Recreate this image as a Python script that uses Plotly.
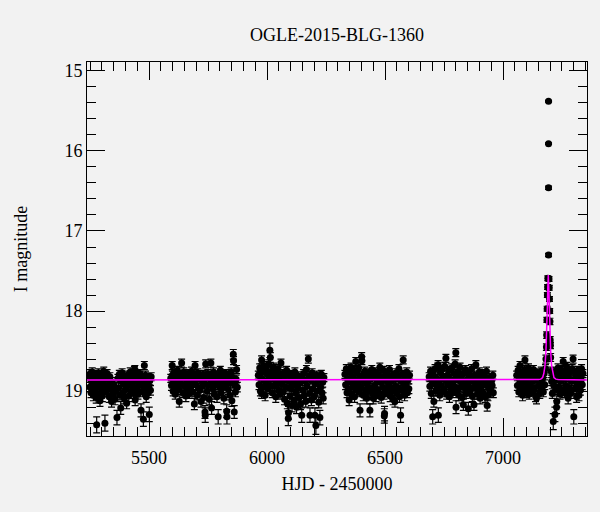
import plotly.graph_objects as go

# ---------------- data ----------------
s1_hjd = [5246,5249,5251,5254,5256,5259,5261,5264,5266,5269,5271,5274,5276,5278,5281,5283,5286,5289,5292,5294,
          5297,5299,5302,5305,5308,5311,5313,5316,5319,5322,5325,5328,5331,5334,5337,5341,5344,5348,5352,5356,
          5360,5364,5368,5371,5374,5377,5380,5383,5386,5389,5392,5395,5398,5401,5405,5408,5411,5414,5417,5420,
          5423,5426,5429,5432,5435,5438,5440,5441,5444,5447,5450,5453,5456,5459,5462,5466,5469,5472,5476,5478,
          5480,5482,5485,5488,5491,5494,5497,5499,5501,5503,5506,5509]
s1_mag = [18.82,18.95,18.78,19.02,18.88,18.76,18.93,19.05,18.84,18.79,18.99,18.87,19.08,19.42,18.81,18.92,18.77,19.03,19.12,18.86,
          18.96,18.80,19.06,18.90,18.75,18.98,19.40,18.83,19.01,18.78,18.94,18.86,19.07,18.82,18.97,19.13,18.89,19.04,18.93,19.10,
          19.00,19.33,18.84,18.96,18.79,19.05,19.21,18.88,18.77,19.02,18.91,19.09,18.83,18.98,19.15,18.80,18.92,19.06,18.86,18.76,
          19.00,18.90,18.81,18.95,19.03,18.74,18.73,19.11,18.87,18.97,18.79,19.04,18.85,18.93,18.78,19.24,18.91,19.01,19.35,18.84,
          18.68,18.96,18.80,19.07,18.89,18.83,19.02,18.94,19.29,18.87,18.99,18.82]
s1_err = [.05,.06,.05,.06,.05,.05,.06,.07,.05,.05,.06,.05,.07,.10,.05,.06,.05,.06,.07,.05,
          .06,.05,.07,.06,.05,.06,.10,.05,.06,.05,.06,.05,.07,.05,.06,.07,.06,.06,.06,.07,
          .06,.09,.05,.06,.05,.06,.08,.05,.05,.06,.06,.07,.05,.06,.07,.05,.06,.07,.05,.05,
          .06,.06,.05,.06,.06,.05,.05,.07,.05,.06,.05,.06,.05,.06,.05,.08,.06,.06,.09,.05,
          .05,.06,.05,.07,.06,.05,.06,.06,.09,.05,.06,.05]

s2_hjd = [5592,5595,5598,5599,5602,5605,5608,5611,5614,5617,5620,5623,5626,5628,5631,5634,5638,5641,5644,5647,
          5650,5653,5656,5659,5662,5665,5668,5671,5674,5677,5680,5683,5686,5689,5692,5695,5698,5701,5704,5707,
          5710,5713,5716,5720,5723,5726,5729,5732,5735,5737,5738,5740,5743,5746,5749,5752,5755,5758,5762,5765,
          5767,5770,5773,5776,5779,5782,5785,5788,5790,5793,5796,5799,5802,5805,5808,5811,5814,5817,5820,5823,
          5826,5829,5830,5833,5836,5839,5842,5845,5848,5851,5854,5857,5858,5861,5863,5866,5869,5871,5874]
s2_mag = [18.84,18.93,18.68,18.80,19.00,18.77,18.89,19.04,18.82,18.95,18.74,18.86,18.98,19.13,18.79,18.91,18.65,18.84,19.02,18.76,
          18.93,18.81,19.06,18.87,18.97,18.78,18.90,19.03,18.83,18.95,18.75,18.88,19.01,18.80,19.16,18.68,18.92,18.85,19.05,18.77,
          18.96,18.82,18.99,19.13,18.86,18.94,18.79,19.08,18.90,19.26,19.30,18.66,18.84,19.00,18.78,18.93,19.10,18.81,18.65,19.21,
          18.88,18.97,18.76,19.04,18.85,18.92,18.80,19.07,18.89,19.32,18.83,18.95,18.74,19.02,18.87,18.96,18.79,19.09,18.84,18.91,
          18.78,19.25,19.32,18.86,18.98,18.81,19.05,18.90,18.76,19.12,18.83,18.54,18.62,19.26,18.93,19.01,18.85,18.73,18.95]
s2_err = [.05,.06,.05,.05,.06,.05,.06,.06,.05,.06,.05,.05,.06,.07,.05,.06,.05,.05,.06,.05,
          .06,.05,.07,.05,.06,.05,.06,.06,.05,.06,.05,.05,.06,.05,.07,.05,.06,.05,.06,.05,
          .06,.05,.06,.07,.05,.06,.05,.07,.06,.08,.09,.05,.05,.06,.05,.06,.07,.05,.05,.08,
          .05,.06,.05,.06,.05,.06,.05,.07,.06,.09,.05,.06,.05,.06,.05,.06,.05,.07,.05,.06,
          .05,.08,.09,.05,.06,.05,.06,.06,.05,.07,.05,.06,.05,.08,.06,.06,.05,.05,.06]

s3_hjd = [5963,5966,5969,5972,5975,5977,5977,5980,5983,5986,5989,5992,5995,5998,6001,6004,6007,6010,6012,6014,
          6016,6019,6022,6025,6028,6031,6034,6037,6040,6043,6046,6049,6052,6055,6059,6062,6065,6068,6071,6074,
          6077,6080,6083,6086,6090,6091,6094,6097,6100,6103,6106,6109,6112,6115,6118,6121,6125,6127,6130,6133,
          6136,6139,6142,6147,6149,6152,6155,6158,6161,6164,6167,6170,6175,6177,6180,6182,6185,6188,6191,6194,
          6197,6200,6203,6205,6207,6210,6213,6216,6219,6222,6224,6227,6230,6233,6236,6238,6241]
s3_mag = [18.80,18.92,18.71,19.00,18.84,18.61,19.03,18.76,18.95,18.68,18.87,19.05,18.73,18.90,18.79,18.97,18.66,18.83,18.49,18.58,
          18.93,18.75,19.02,18.81,18.70,18.94,18.86,19.07,18.77,18.89,18.72,18.99,18.84,19.04,18.65,18.91,18.78,19.01,18.86,19.10,
          18.80,18.95,18.74,19.15,19.34,19.27,18.88,19.06,18.79,18.97,19.18,18.83,18.92,19.12,18.76,19.02,19.20,18.87,18.96,18.81,
          19.08,18.90,19.16,19.30,18.84,18.99,18.78,19.05,18.88,19.13,18.73,18.94,18.60,18.82,19.03,19.30,18.86,19.11,18.77,18.97,
          18.83,19.07,19.30,18.91,19.43,18.80,19.00,18.87,19.14,18.84,19.33,18.95,18.79,19.02,18.89,19.09,18.83]
s3_err = [.05,.06,.05,.06,.05,.05,.06,.05,.06,.05,.05,.07,.05,.06,.05,.06,.05,.05,.09,.06,
          .06,.05,.06,.05,.05,.06,.05,.07,.05,.06,.05,.06,.05,.06,.05,.06,.05,.06,.05,.07,
          .05,.06,.05,.07,.09,.08,.05,.07,.05,.06,.08,.05,.06,.07,.05,.06,.08,.05,.06,.05,
          .07,.06,.07,.09,.05,.06,.05,.07,.05,.07,.05,.06,.05,.05,.06,.09,.05,.07,.05,.06,
          .05,.07,.09,.06,.11,.05,.06,.05,.07,.05,.09,.06,.05,.06,.06,.07,.05]

s4_hjd = [6330,6333,6336,6339,6342,6345,6348,6350,6353,6356,6359,6362,6365,6368,6371,6374,6376,6379,6382,6385,
          6388,6391,6394,6396,6399,6401,6402,6405,6408,6411,6414,6417,6420,6423,6426,6429,6432,6436,6438,6441,
          6444,6447,6450,6453,6456,6459,6462,6465,6468,6471,6474,6478,6481,6484,6487,6490,6493,6496,6497,6498,
          6501,6504,6507,6510,6513,6516,6519,6522,6525,6528,6531,6534,6537,6542,6544,6547,6550,6553,6556,6559,
          6562,6566,6568,6571,6574,6577,6580,6583,6586,6589,6592,6595,6598,6601,6604]
s4_mag = [18.79,18.92,18.72,19.02,18.85,18.97,19.11,18.76,18.89,18.70,19.04,18.82,18.94,18.74,19.07,18.86,18.63,18.99,18.78,18.91,
          18.71,19.01,19.24,18.84,18.95,18.57,18.62,18.80,19.05,18.88,18.75,18.98,18.83,19.09,18.90,18.77,19.00,19.24,18.85,18.96,
          18.73,19.03,19.09,18.81,18.93,18.76,19.06,18.87,18.98,18.79,19.02,18.70,18.89,19.08,18.82,18.95,18.74,19.04,19.31,19.28,
          18.86,18.97,18.78,19.01,18.84,18.92,18.73,19.06,18.88,18.99,18.80,19.10,18.85,19.13,18.94,18.77,19.03,18.83,18.96,18.72,
          19.07,19.30,18.87,18.99,18.79,18.61,18.91,19.05,18.82,18.94,18.76,19.02,18.86,18.97,18.80]
s4_err = [.05,.06,.05,.06,.05,.06,.07,.05,.06,.05,.06,.05,.06,.05,.07,.05,.05,.06,.05,.06,
          .05,.06,.08,.05,.06,.05,.05,.05,.07,.05,.05,.06,.05,.07,.06,.05,.06,.08,.05,.06,
          .05,.06,.07,.05,.06,.05,.07,.05,.06,.05,.06,.05,.06,.07,.05,.06,.05,.06,.09,.09,
          .05,.06,.05,.06,.05,.06,.05,.07,.05,.06,.05,.07,.05,.07,.06,.05,.06,.05,.06,.05,
          .07,.09,.05,.06,.05,.05,.06,.07,.05,.06,.05,.06,.05,.06,.05]

s5_hjd = [6687,6690,6693,6696,6699,6702,6704,6707,6709,6712,6715,6718,6721,6723,6725,6726,6729,6732,6735,6738,
          6741,6744,6747,6750,6753,6756,6758,6761,6764,6767,6770,6773,6776,6779,6782,6785,6788,6791,6794,6797,
          6800,6801,6803,6806,6809,6812,6815,6818,6821,6824,6827,6830,6832,6835,6838,6841,6844,6847,6850,6853,
          6855,6858,6861,6864,6867,6870,6873,6877,6879,6882,6885,6888,6891,6894,6897,6900,6903,6906,6909,6912,
          6915,6918,6921,6924,6927,6930,6933,6936,6939,6942,6945,6948,6951,6954,6957,6959]
s5_mag = [18.82,18.94,18.75,19.03,18.87,19.32,18.79,19.13,18.91,18.72,19.00,18.84,18.96,18.70,18.67,19.30,18.88,19.05,18.77,18.93,
          18.73,19.01,18.83,18.97,18.69,18.86,18.59,19.04,18.80,18.92,18.74,19.07,18.85,18.98,18.71,18.89,19.02,18.78,18.94,18.66,
          18.52,19.20,18.84,18.99,18.76,19.05,18.87,18.70,18.95,18.81,19.08,18.90,19.17,18.77,18.96,18.73,19.03,18.86,18.93,19.22,
          18.79,19.00,18.84,18.97,18.72,19.06,18.88,19.17,18.80,18.95,18.67,18.91,19.04,18.83,18.98,18.76,19.09,18.86,18.94,18.78,
          19.02,18.89,18.81,19.07,18.92,18.75,19.18,19.05,18.85,18.97,18.83,19.01,18.88,18.93,18.80,19.02]
s5_err = [.05,.06,.05,.06,.05,.09,.05,.07,.06,.05,.06,.05,.06,.05,.05,.09,.05,.07,.05,.06,
          .05,.06,.05,.06,.05,.05,.05,.06,.05,.06,.05,.07,.05,.06,.05,.06,.06,.05,.06,.05,
          .05,.08,.05,.06,.05,.07,.05,.05,.06,.05,.07,.06,.07,.05,.06,.05,.06,.05,.06,.08,
          .05,.06,.05,.06,.05,.07,.05,.07,.05,.06,.05,.06,.06,.05,.06,.05,.07,.05,.06,.05,
          .06,.06,.05,.07,.06,.05,.07,.07,.05,.06,.05,.06,.05,.06,.05,.06]

s6_hjd = [7058,7061,7064,7067,7070,7072,7075,7078,7080,7083,7086,7089,7091,7093,7096,7099,7102,7105,7108,7111,
          7114,7117,7120,7123,7126,7129,7132,7135,7138,7142,7144,7147,7150,7153,7156,7159,7162,7165,7168,7171,
          7174,7177,7180,7182,7184,7185,7186,7187,7188,7189,7190,7193,7193,7193,7193,7195,7196,7197,7198,7199,
          7200,7201,7202,7204,7206,7209,7211,7213,7215,7218,7220,7222,7225,7227,7228,7230,7233,7236,7239,7242,
          7245,7248,7251,7255,7257,7260,7263,7266,7269,7272,7276,7278,7281,7284,7287,7290,7293,7297,7300,7302,
          7305,7308,7312,7314,7317,7320,7322,7325,7328,7331,7333,7336,7339]
s6_mag = [18.80,18.93,18.74,19.01,18.85,18.68,18.96,18.78,18.90,19.05,18.82,18.97,18.73,18.61,18.87,19.02,18.79,18.93,18.71,19.04,
          18.84,18.95,18.76,19.00,18.88,18.73,18.98,18.83,19.06,19.09,18.86,18.77,18.94,18.81,19.03,18.89,18.75,18.97,18.84,19.01,
          18.78,18.92,18.72,18.60,18.45,18.30,18.11,17.97,17.80,17.70,17.59,17.30,16.46,15.91,15.38,17.60,17.71,17.85,18.00,18.13,
          18.36,18.43,18.58,18.75,18.88,19.03,18.80,19.38,18.93,18.76,19.29,18.86,18.98,19.20,19.13,18.82,18.71,18.95,18.79,19.04,
          18.87,18.74,18.99,18.63,18.85,19.02,18.78,18.93,18.69,19.00,19.09,18.83,18.96,18.76,19.03,18.88,18.72,18.60,19.32,18.85,
          18.97,18.79,19.07,18.90,18.74,18.94,19.05,18.81,18.99,18.86,18.72,18.92,18.78]
s6_err = [.05,.06,.05,.06,.05,.05,.06,.05,.06,.07,.05,.06,.05,.05,.05,.06,.05,.06,.05,.06,
          .05,.06,.05,.06,.05,.05,.06,.05,.07,.07,.05,.05,.06,.05,.06,.06,.05,.06,.05,.06,
          .05,.06,.05,.05,.04,.04,.03,.03,.03,.03,.03,.02,.02,.01,.01,.03,.03,.03,.03,.04,
          .04,.04,.05,.05,.05,.06,.05,.10,.06,.05,.09,.05,.06,.08,.07,.05,.05,.06,.05,.06,
          .05,.05,.06,.05,.05,.06,.05,.06,.05,.06,.07,.05,.06,.05,.06,.05,.05,.05,.09,.05,
          .06,.05,.07,.06,.05,.06,.07,.05,.06,.05,.05,.06,.05]

# microlensing model curve
model_hjd = [5237, 7100, 7150, 7160, 7168, 7173, 7178, 7182, 7185, 7188, 7190, 7192,
             7194, 7196, 7199, 7202, 7206, 7211, 7216, 7224, 7234, 7356]
model_mag = [18.86, 18.86, 18.855, 18.85, 18.83, 18.78, 18.68, 18.50, 18.30, 17.95, 17.70, 17.55,
             17.70, 17.95, 18.30, 18.50, 18.68, 18.78, 18.83, 18.85, 18.855, 18.86]

title_text = "OGLE-2015-BLG-1360"
x_label = "HJD - 2450000"
y_label = "I magnitude"
x_ticks = [5500, 6000, 6500, 7000]
y_ticks = [15, 16, 17, 18, 19]

# ---------------- figure ----------------
hjd = s1_hjd + s2_hjd + s3_hjd + s4_hjd + s5_hjd + s6_hjd
mag = s1_mag + s2_mag + s3_mag + s4_mag + s5_mag + s6_mag
err = s1_err + s2_err + s3_err + s4_err + s5_err + s6_err

FONT = "Liberation Serif"
BG = "#f2f2f2"

fig = go.Figure()
fig.add_trace(go.Scatter(
    x=hjd, y=mag, mode="markers",
    marker=dict(color="black", size=7),
    error_y=dict(type="data", array=err, visible=True, color="black", thickness=1.2, width=3.5),
    showlegend=False, hoverinfo="skip"))
fig.add_trace(go.Scatter(
    x=model_hjd, y=model_mag, mode="lines",
    line=dict(color="#ff00ff", width=1.5),
    showlegend=False, hoverinfo="skip"))

axis_common = dict(
    showgrid=False, zeroline=False, showline=True, linecolor="black", linewidth=1,
    mirror="allticks", ticks="inside", ticklen=18, tickwidth=1, tickcolor="black",
    tickfont=dict(family=FONT, size=18, color="black"),
)

fig.update_xaxes(
    range=[5237, 7356], tickvals=x_ticks, ticktext=[str(v) for v in x_ticks],
    ticklabelstandoff=5,
    minor=dict(ticks="inside", ticklen=9, dtick=50, tick0=5000, tickcolor="black", tickwidth=1, showgrid=False),
    title=dict(text=x_label, font=dict(family=FONT, size=18, color="black"), standoff=10),
    **axis_common)
fig.update_yaxes(
    range=[19.56, 14.89], tickvals=y_ticks, ticktext=[str(v) for v in y_ticks],
    minor=dict(ticks="inside", ticklen=9, dtick=0.2, tick0=15, tickcolor="black", tickwidth=1, showgrid=False),
    title=dict(text=y_label, font=dict(family=FONT, size=18, color="black"), standoff=32),
    **axis_common)

fig.update_layout(
    width=600, height=512,
    margin=dict(l=87, r=13, t=62, b=76, autoexpand=False),
    paper_bgcolor=BG, plot_bgcolor=BG,
    title=dict(text=title_text, x=0.5, xref="paper", xanchor="center",
               y=1 - 35 / 512, yanchor="middle",
               font=dict(family=FONT, size=18, color="black")),
)

fig.write_html("out.html", config={"displayModeBar": False},
               post_script="document.body.style.margin='0';document.body.style.background='#f2f2f2';")
